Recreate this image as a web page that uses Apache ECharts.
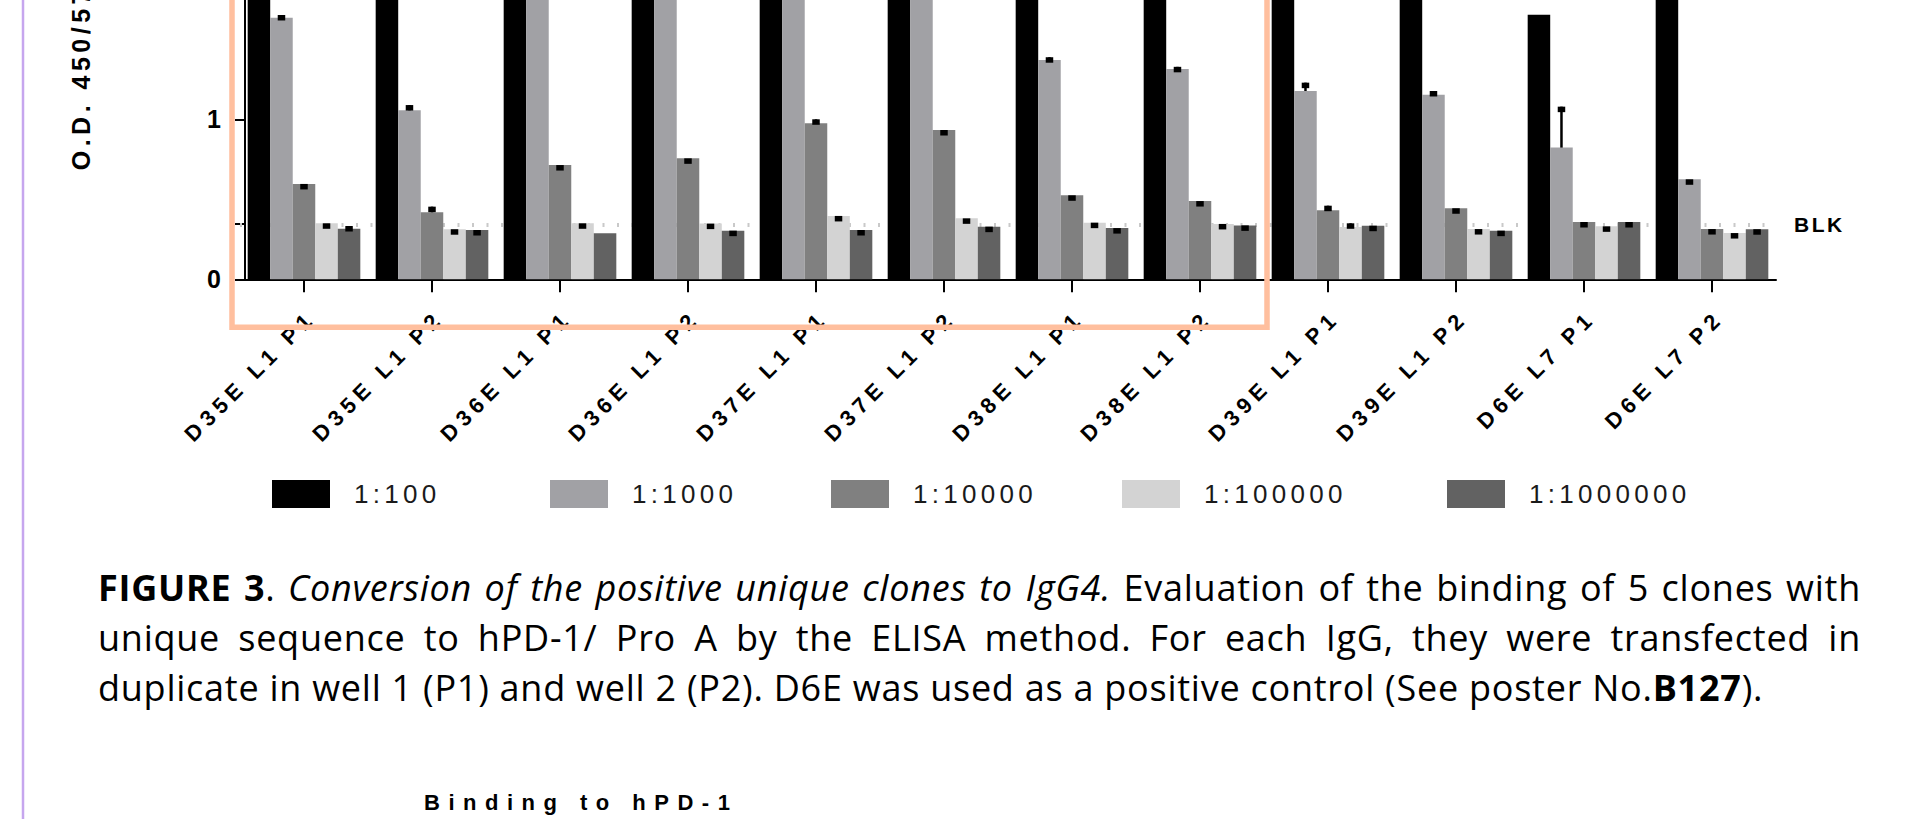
<!DOCTYPE html>
<html>
<head>
<meta charset="utf-8">
<title>Conversion of the positive unique clones to IgG4</title>
<script src="https://cdn.jsdelivr.net/npm/echarts@6/dist/echarts.min.js"></script>
<style>
  html, body { margin: 0; padding: 0; background: #fff; overflow: hidden; width: 1907px; height: 819px; }
  /* the plot is taller than the window: its upper part sits above the top edge */
  #chart { position: absolute; left: 0; top: -400px; width: 1907px; height: 1219px; }
  #caption {
    position: absolute; left: 98px; top: 563px; width: 1763px;
    font-family: "Open Sans", "Noto Sans", sans-serif; font-size: 36px; line-height: 50px;
    letter-spacing: 0.75px; color: #000;
  }
  #caption .ln { display: block; white-space: nowrap; text-align: justify; text-align-last: justify; }
  #caption .last { display: block; white-space: nowrap; text-align: left; }
</style>
</head>
<body>
<div id="chart"></div>
<div id="caption">
  <span class="ln"><b>FIGURE 3</b>. <i>Conversion of the positive unique clones to IgG4.</i> Evaluation of the binding of 5 clones with</span>
  <span class="ln">unique sequence to hPD-1/ Pro A by the ELISA method. For each IgG, they were transfected in</span>
  <span class="last">duplicate in well 1 (P1) and well 2 (P2). D6E was used as a positive control (See poster No.<b>B127</b>).</span>
</div>
<script>
// ---- data ----
const categories = ['D35E L1 P1', 'D35E L1 P2', 'D36E L1 P1', 'D36E L1 P2', 'D37E L1 P1', 'D37E L1 P2',
                    'D38E L1 P1', 'D38E L1 P2', 'D39E L1 P1', 'D39E L1 P2', 'D6E L7 P1', 'D6E L7 P2'];
const dilutions = ['1:100', '1:1000', '1:10000', '1:100000', '1:1000000'];

// mean O.D. per dilution
const od100     = [3.3, 3.2, 3.4, 3.3, 3.4, 3.3, 3.2, 3.1, 3.1, 3.0, 1.654, 2.9];
const od1000    = [1.635, 1.056, 2.6, 2.5, 2.3, 2.2, 1.371, 1.314, 1.177, 1.154, 0.823, 0.625];
const od10000   = [0.596, 0.419, 0.714, 0.756, 0.975, 0.933, 0.525, 0.489, 0.431, 0.444, 0.358, 0.314];
const od100000  = [0.350, 0.313, 0.350, 0.348, 0.396, 0.381, 0.354, 0.346, 0.327, 0.314, 0.331, 0.289];
const od1000000 = [0.316, 0.308, 0.288, 0.304, 0.308, 0.329, 0.320, 0.337, 0.335, 0.304, 0.358, 0.313];

// standard deviation (null: no error bar)
const sd100     = [null, null, null, null, null, null, null, null, null, null, null, null];
const sd1000    = [0.017, 0.033, null, null, null, null, 0.017, 0.014, 0.052, 0.023, 0.256, 0];
const sd10000   = [0, 0.035, 0, 0, 0.025, 0, 0, 0, 0.029, 0, 0, 0];
const sd100000  = [0, 0, 0, 0, 0, 0, 0, 0, 0.023, 0, 0, 0];
const sd1000000 = [0.017, 0, null, 0, 0, 0, 0, 0, 0, 0, 0, 0];

const blank = 0.345;                 // blank O.D. level
const yTickLabels = [0, 1];
const yTitle = 'O.D. 450/570';
const nextTitle = 'Binding to hPD-1';

// ---- styling ----
const FONT = "'Liberation Sans', Arial, sans-serif";
const colors = ['#000000', '#a1a1a5', '#808080', '#d3d3d3', '#626262'];
const CAT_GAP = 0.12;
const legendLeft = [272, 550, 831, 1122, 1447];

const means = [od100, od1000, od10000, od100000, od1000000];
const sds = [sd100, sd1000, sd10000, sd100000, sd1000000];

const errData = [];
sds.forEach((arr, s) => arr.forEach((e, i) => {
  if (e != null) errData.push([i, s, means[s][i], e]);
}));

const chart = echarts.init(document.getElementById('chart'), null, { renderer: 'svg' });

const barSeries = dilutions.map((name, s) => ({
  name,
  type: 'bar',
  data: means[s],
  z: 2,
  barGap: '0%',
  barCategoryGap: (CAT_GAP * 100) + '%',
  itemStyle: { color: colors[s] },
  emphasis: { disabled: true },
  animation: false
}));

const option = {
  animation: false,
  grid: { left: 240, width: 1536, top: 39.3, height: 640, containLabel: false, outerBoundsMode: 'none' },
  xAxis: {
    type: 'category',
    data: categories,
    axisLine: { show: true, lineStyle: { color: '#000', width: 2 } },
    axisTick: { show: true, alignWithLabel: true, length: 13, lineStyle: { color: '#000', width: 2 } },
    axisLabel: { interval: 0, rotate: 45, margin: 27, verticalAlign: 'top', fontSize: 22, fontWeight: 'bold',
                 color: '#000', fontFamily: FONT },
    splitLine: { show: false }
  },
  yAxis: {
    type: 'value',
    min: 0, max: 4, interval: 1,
    offset: -5,
    axisLine: { show: true, lineStyle: { color: '#000', width: 2 } },
    axisTick: { show: true, length: 10, lineStyle: { color: '#000', width: 2 }, customValues: [0, blank, 1, 2, 3, 4] },
    axisLabel: { margin: 24, fontSize: 25, fontWeight: 'bold', color: '#000', fontFamily: FONT, customValues: yTickLabels },
    splitLine: { show: false }
  },
  legend: dilutions.map((d, i) => ({
    data: [{ name: d, icon: 'rect' }],
    left: legendLeft[i], top: 880,
    itemWidth: 58, itemHeight: 28, padding: 0,
    selectedMode: false,
    textStyle: { fontSize: 26, color: '#1a1a1a', fontFamily: FONT, padding: [0, 0, 0, 19] }
  })),
  series: [
    {
      name: 'blank',
      type: 'line',
      data: [],
      silent: true,
      z: 1,
      markLine: {
        z: 1,
        silent: true,
        symbol: 'none',
        animation: false,
        lineStyle: { type: [2, 12.5], color: '#c9c9c9', width: 4 },
        label: { show: true, position: 'end', formatter: 'BLK', distance: 18, color: '#000',
                 fontSize: 21, fontWeight: 'bold', fontFamily: FONT },
        emphasis: { disabled: true },
        data: [{ yAxis: blank }]
      }
    },
    ...barSeries,
    {
      name: 'sd',
      type: 'custom',
      z: 5,
      silent: true,
      data: errData,
      encode: { x: 0, y: 2 },
      renderItem(params, api) {
        const cat = api.value(0), s = api.value(1), v = api.value(2), e = api.value(3);
        const base = api.coord([cat, v]);
        const top = api.coord([cat, v + e]);
        const band = api.size([1, 0])[0];
        const bw = band * (1 - CAT_GAP) / dilutions.length;
        const x = base[0] + (s - (dilutions.length - 1) / 2) * bw;
        const children = [];
        if (e > 0) {
          children.push({ type: 'line', shape: { x1: x, y1: base[1], x2: x, y2: top[1] },
                          style: { stroke: '#000', lineWidth: 2.5 } });
        }
        children.push({ type: 'rect', shape: { x: x - 3.75, y: top[1], width: 7.5, height: 5.5 },
                        style: { fill: '#000' } });
        return { type: 'group', children };
      }
    }
  ]
};

chart.setOption(option);

// frame round the D35E–D38E groups, title of the axis, page rule and next panel title
const c0 = chart.convertToPixel({ xAxisIndex: 0 }, 0);
const c1 = chart.convertToPixel({ xAxisIndex: 0 }, 1);
const c7 = chart.convertToPixel({ xAxisIndex: 0 }, 7);
const step = c1 - c0;
const y0 = chart.convertToPixel({ yAxisIndex: 0 }, 0);
const frameLeft = c0 - step / 2 - 8;
const frameRight = c7 + step / 2 + 3;
const frameTop = y0 - 380;
const frameBottom = y0 + 48;

chart.setOption({
  graphic: [
    { type: 'line', z: 50, silent: true,
      shape: { x1: 23, y1: 0, x2: 23, y2: 1219 },
      style: { stroke: '#c6a6ee', lineWidth: 2.5 } },
    { type: 'text', z: 50, silent: true, x: 81, y: y0 - 109, rotation: Math.PI / 2,
      style: { text: yTitle, font: "bold 25px " + FONT, fill: '#000',
               textAlign: 'left', textVerticalAlign: 'middle', align: 'left', verticalAlign: 'middle' } },
    { type: 'text', z: 50, silent: true, x: 424, y: y0 + 523,
      style: { text: nextTitle, font: "bold 22px " + FONT, fill: '#000',
               textAlign: 'left', textVerticalAlign: 'middle', align: 'left', verticalAlign: 'middle' } },
    { type: 'rect', z: 100, silent: true,
      shape: { x: frameLeft, y: frameTop, width: frameRight - frameLeft, height: frameBottom - frameTop },
      style: { fill: 'none', stroke: '#ffbf9e', lineWidth: 5.5 } }
  ]
});

// letter spacing for the spaced-out labels
function spaceText() {
  const spacing = new Map();
  categories.forEach(c => spacing.set(c, '5.5px'));
  dilutions.forEach(d => spacing.set(d, '4.3px'));
  spacing.set('BLK', '2.5px');
  spacing.set(yTitle, '4.5px');
  spacing.set(nextTitle, '8.5px');
  chart.getDom().querySelectorAll('text').forEach(t => {
    const s = spacing.get(t.textContent);
    if (s) t.style.letterSpacing = s;
  });
}
spaceText();
chart.on('finished', spaceText);
</script>
</body>
</html>
